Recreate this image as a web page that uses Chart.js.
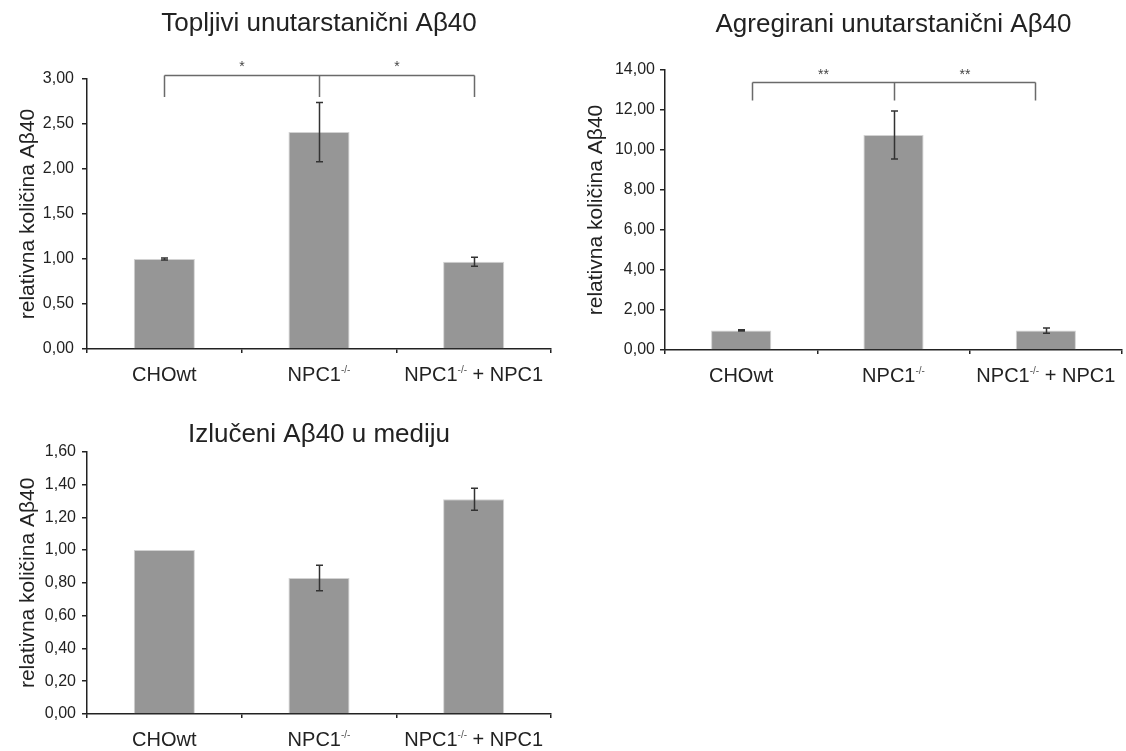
<!DOCTYPE html>
<html>
<head>
<meta charset="utf-8">
<script src="https://cdn.jsdelivr.net/npm/chart.js@4.4.1/dist/chart.umd.min.js"></script>
<style>
html, body { margin: 0; padding: 0; background: #fff; width: 1126px; height: 751px; overflow: hidden; }
canvas { position: absolute; }
</style>
</head>
<body>
<canvas id="soluble" width="560" height="395" style="left:0;top:0"></canvas>
<canvas id="aggregated" width="551" height="395" style="left:575px;top:0"></canvas>
<canvas id="secreted" width="560" height="356" style="left:0;top:395px"></canvas>
<script>
// podaci (očitani sa slike)
const categories = ['CHOwt', 'NPC1-/-', 'NPC1-/- + NPC1'];

const solubleMeans = [1.00, 2.41, 0.97];
const solubleErrors = [0.01, 0.33, 0.05];
const solubleTicks = [0, 0.5, 1, 1.5, 2, 2.5, 3];
const solubleStars = ['*', '*'];

const aggregatedMeans = [0.98, 10.75, 0.97];
const aggregatedErrors = [0.03, 1.2, 0.13];
const aggregatedTicks = [0, 2, 4, 6, 8, 10, 12, 14];
const aggregatedStars = ['**', '**'];

const secretedMeans = [1.00, 0.83, 1.31];
const secretedErrors = [0, 0.078, 0.067];
const secretedTicks = [0, 0.2, 0.4, 0.6, 0.8, 1, 1.2, 1.4, 1.6];

const FONT = "'Liberation Sans', Arial, sans-serif";
const TEXT = '#222';
const AXIS = '#222';
Chart.defaults.font.family = FONT;

// crta error barove, zagradu sa zvjezdicama i x oznake (s eksponentom -/-)
function annotate(errors, bracket) {
    return {
        id: 'annotate',
        afterDatasetsDraw(chart) {
            const ctx = chart.ctx;
            const xs = chart.scales.x, ys = chart.scales.y;
            const means = chart.data.datasets[0].data;
            ctx.save();
            ctx.strokeStyle = '#333';
            ctx.lineWidth = 1.5;
            errors.forEach((e, i) => {
                if (!e) return;
                const cx = Math.round(xs.getPixelForValue(i)) + 0.5;
                const top = ys.getPixelForValue(means[i] + e);
                const bot = ys.getPixelForValue(means[i] - e);
                ctx.beginPath();
                ctx.moveTo(cx, top); ctx.lineTo(cx, bot);
                ctx.moveTo(cx - 3.5, top); ctx.lineTo(cx + 3.5, top);
                ctx.moveTo(cx - 3.5, bot); ctx.lineTo(cx + 3.5, bot);
                ctx.stroke();
            });
            ctx.restore();
        },
        afterDraw(chart) {
            const ctx = chart.ctx;
            const xs = chart.scales.x, ys = chart.scales.y;
            ctx.save();
            if (bracket) {
                const px = bracket.x.map(v => Math.round(xs.getPixelForValue(v)) + 0.5);
                const top = Math.round(ys.getPixelForValue(bracket.top)) + 0.5;
                const leg = ys.getPixelForValue(bracket.leg);
                ctx.strokeStyle = '#6a6a6a';
                ctx.lineWidth = 1.5;
                ctx.beginPath();
                ctx.moveTo(px[0], top); ctx.lineTo(px[px.length - 1], top);
                px.forEach(p => { ctx.moveTo(p, top); ctx.lineTo(p, leg); });
                ctx.stroke();
                ctx.fillStyle = '#444';
                ctx.font = '14px ' + FONT;
                ctx.textAlign = 'center';
                ctx.textBaseline = 'middle';
                const sy = ys.getPixelForValue(bracket.starY) + 3;
                bracket.stars.forEach((s, i) => {
                    ctx.fillText(s, (px[i] + px[i + 1]) / 2, sy);
                });
            }
            // x oznake
            const base = chart.chartArea.bottom + 32;
            ctx.textAlign = 'left';
            ctx.textBaseline = 'alphabetic';
            chart.data.labels.forEach((label, i) => {
                const parts = label.split('-/-');
                ctx.font = '20px ' + FONT;
                const w0 = ctx.measureText(parts[0]).width;
                const w2 = parts.length > 1 ? ctx.measureText(parts[1]).width : 0;
                ctx.font = '10px ' + FONT;
                const ws = parts.length > 1 ? ctx.measureText('-/-').width : 0;
                let x = xs.getPixelForValue(i) - (w0 + ws + w2) / 2;
                ctx.fillStyle = TEXT;
                ctx.font = '20px ' + FONT;
                ctx.fillText(parts[0], x, base);
                x += w0;
                if (parts.length > 1) {
                    ctx.fillStyle = '#555';
                    ctx.font = '10px ' + FONT;
                    ctx.fillText('-/-', x, base - 8);
                    x += ws;
                    ctx.fillStyle = TEXT;
                    ctx.font = '20px ' + FONT;
                    ctx.fillText(parts[1], x, base);
                }
            });
            ctx.restore();
        }
    };
}

function makeChart(id, title, means, errors, ticks, opt) {
    const ctx = document.getElementById(id).getContext('2d');
    return new Chart(ctx, {
        type: 'bar',
        data: {
            labels: categories,
            datasets: [{
                data: means,
                backgroundColor: '#969696',
                borderColor: '#d2d2d2',
                borderWidth: 1,
                barPercentage: 0.395,
                categoryPercentage: 1
            }]
        },
        options: {
            responsive: false,
            animation: false,
            layout: { padding: { left: 0, right: opt.right, top: 0, bottom: 0 } },
            plugins: {
                legend: { display: false },
                tooltip: { enabled: false },
                title: {
                    display: true,
                    text: title,
                    fullSize: false,
                    color: TEXT,
                    font: { size: 26, weight: 'normal' },
                    padding: { top: opt.titleTop, bottom: opt.titleBottom }
                }
            },
            scales: {
                x: {
                    offset: true,
                    ticks: { display: false },
                    grid: { offset: true, drawOnChartArea: false, drawTicks: true, tickLength: 4, color: AXIS, lineWidth: 1.5 },
                    border: { color: AXIS, width: 1.5 },
                    afterFit: s => { s.height = opt.xHeight; }
                },
                y: {
                    min: ticks[0],
                    max: ticks[ticks.length - 1],
                    afterBuildTicks: s => { s.ticks = ticks.map(v => ({ value: v })); },
                    ticks: {
                        color: TEXT,
                        font: { size: 16 },
                        padding: opt.tickPad,
                        callback: v => Number(v).toFixed(2).replace('.', ',')
                    },
                    grid: { drawOnChartArea: false, drawTicks: true, tickLength: 5, color: AXIS, lineWidth: 1.5 },
                    border: { color: AXIS, width: 1.5 },
                    title: {
                        display: true,
                        text: 'relativna količina Aβ40',
                        color: TEXT,
                        font: { size: 21 },
                        padding: { top: opt.yTitleTop, bottom: 0 }
                    },
                    afterFit: s => { s.width = opt.yWidth; }
                }
            }
        },
        plugins: [annotate(errors, opt.bracket)]
    });
}

makeChart('soluble', 'Topljivi unutarstanični Aβ40', solubleMeans, solubleErrors, solubleTicks, {
    right: 9, titleTop: 8.4, titleBottom: 39.4, xHeight: 46, yWidth: 87, tickPad: 8, yTitleTop: 15.4,
    bracket: { x: [0, 1, 2], top: 3.04, leg: 2.80, starY: 3.16, stars: solubleStars }
});

makeChart('aggregated', 'Agregirani unutarstanični Aβ40', aggregatedMeans, aggregatedErrors, aggregatedTicks, {
    right: 4, titleTop: 9.4, titleBottom: 29.4, xHeight: 45, yWidth: 90, tickPad: 5, yTitleTop: 8.4,
    bracket: { x: [0.07, 1, 1.93], top: 13.4, leg: 12.47, starY: 13.9, stars: aggregatedStars }
});

makeChart('secreted', 'Izlučeni Aβ40 u mediju', secretedMeans, secretedErrors, secretedTicks, {
    right: 9, titleTop: 24.7, titleBottom: 0.8, xHeight: 37, yWidth: 87, tickPad: 6, yTitleTop: 15.4,
    bracket: null
});
</script>
</body>
</html>
